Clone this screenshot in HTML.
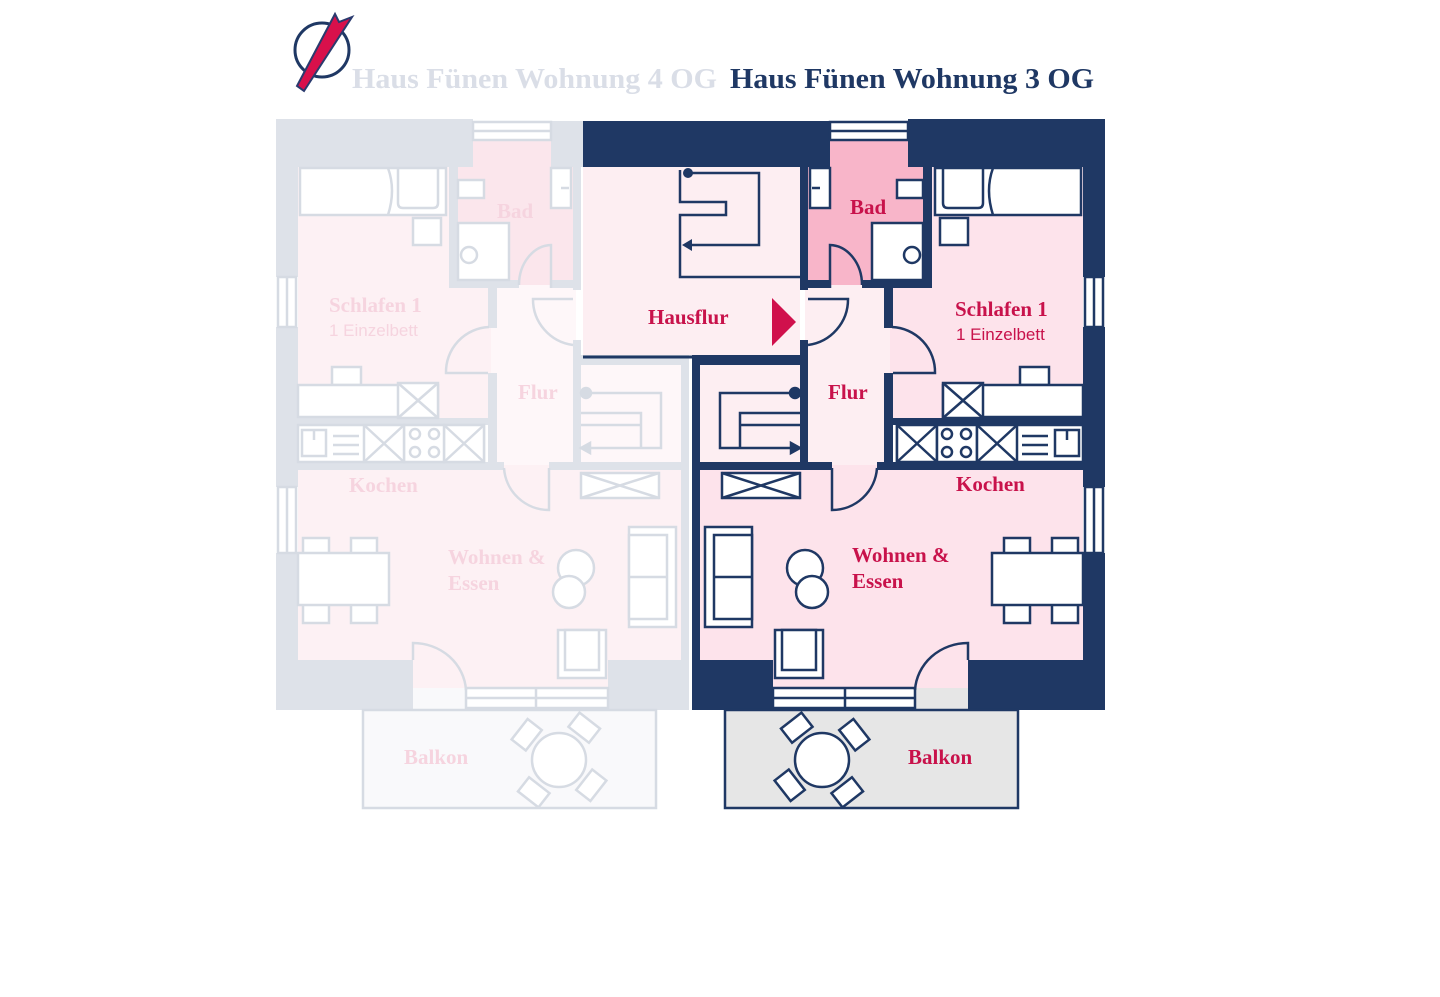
<!DOCTYPE html>
<html><head><meta charset="utf-8"><style>
html,body{margin:0;padding:0;background:#fff;width:1440px;height:997px;overflow:hidden}
svg{display:block}
.t{font-family:"Liberation Serif",serif;font-weight:bold;font-size:21px}
.s{font-family:"Liberation Sans",sans-serif;font-size:17px}
</style></head><body>
<svg width="1440" height="997" viewBox="0 0 1440 997" xmlns="http://www.w3.org/2000/svg">
<defs>
<g id="apt">
  <!-- rooms -->
  <rect x="808" y="138" width="117" height="147" fill="var(--bad)"/>
  <rect x="932" y="167" width="151" height="255" fill="var(--room)"/>
  <rect x="890" y="288" width="45" height="134" fill="var(--room)"/>
  <rect x="805" y="285" width="85" height="185" fill="var(--flur)"/>
  <rect x="700" y="362" width="105" height="103" fill="var(--flur)"/>
  <rect x="700" y="465" width="383" height="200" fill="var(--room)"/>
  <rect x="773" y="660" width="195" height="28" fill="var(--room)"/>
  <rect x="915" y="688" width="53" height="22" fill="var(--balk)"/>
  <!-- walls -->
  <g fill="var(--wall)">
    <rect x="583" y="121" width="247" height="46"/>
    <rect x="908" y="119" width="197" height="48"/>
    <rect x="1083" y="119" width="22" height="158"/>
    <rect x="1083" y="327" width="22" height="160"/>
    <rect x="1083" y="553" width="22" height="157"/>
    <rect x="692" y="660" width="81" height="50"/>
    <rect x="968" y="660" width="137" height="50"/>
    <rect x="692" y="360" width="8" height="350"/>
    <rect x="692" y="355" width="116" height="10"/>
    <rect x="800" y="167" width="8" height="123"/>
    <rect x="800" y="340" width="8" height="125"/>
    <rect x="923" y="167" width="9" height="121"/>
    <rect x="808" y="280" width="22" height="8"/>
    <rect x="862" y="280" width="70" height="8"/>
    <rect x="884" y="285" width="9" height="43"/>
    <rect x="884" y="373" width="9" height="97"/>
    <rect x="892" y="418" width="191" height="7"/>
    <rect x="692" y="462" width="140" height="8"/>
    <rect x="877" y="462" width="206" height="8"/>
  </g>
  <g fill="#fff" stroke="var(--line)" stroke-width="2.5">
    <!-- windows -->
    <rect x="830" y="122" width="78" height="18"/><line x1="830" y1="131" x2="908" y2="131"/>
    <rect x="1085" y="277" width="18" height="50"/><line x1="1094" y1="277" x2="1094" y2="327"/>
    <rect x="1085" y="487" width="18" height="66"/><line x1="1094" y1="487" x2="1094" y2="553"/>
    <rect x="773" y="688" width="142" height="20"/><line x1="773" y1="698" x2="915" y2="698"/><line x1="845" y1="688" x2="845" y2="708"/>
    <!-- bad -->
    <rect x="810" y="168" width="20" height="40"/><line x1="812" y1="188" x2="820" y2="188"/>
    <rect x="897" y="180" width="26" height="18"/>
    <rect x="872" y="223" width="51" height="57"/>
    <circle cx="912" cy="255" r="8"/>
    <!-- schlafen -->
    <rect x="935" y="168" width="146" height="47"/>
    <path d="M943 168 V203 Q943 208 948 208 H978 Q983 208 983 203 V168" fill="none"/>
    <path d="M993 168 Q985 190 993 215" fill="none"/>
    <rect x="940" y="218" width="28" height="27"/>
    <rect x="1020" y="367" width="29" height="18"/>
    <rect x="943" y="385" width="140" height="32"/>
    <rect x="943" y="383" width="40" height="35"/><path d="M943 383 L983 418 M983 383 L943 418"/>
    <!-- kitchen -->
    <rect x="897" y="425" width="186" height="37"/>
    <rect x="897" y="425" width="40" height="37"/><path d="M897 425 L937 462 M937 425 L897 462"/>
    <rect x="937" y="425" width="40" height="37"/>
    <circle cx="947" cy="434" r="5"/><circle cx="966" cy="434" r="5"/><circle cx="947" cy="452" r="5"/><circle cx="966" cy="452" r="5"/>
    <rect x="977" y="425" width="40" height="37"/><path d="M977 425 L1017 462 M1017 425 L977 462"/>
    <path d="M1022 436 H1048 M1022 445 H1048 M1022 454 H1048" fill="none"/>
    <rect x="1055" y="430" width="24" height="26"/><line x1="1067" y1="430" x2="1067" y2="440"/>
    <!-- storage stairs -->
    <path d="M795 393 H720 V448 H800 M740 448 V425 H800 M740 425 V413 H800" fill="none"/>
    <path d="M800 448 l-9 -5 v10 z" fill="var(--line)"/>
    <circle cx="795" cy="393" r="5" fill="var(--line)"/>
    <!-- wohnen -->
    <rect x="722" y="473" width="78" height="25"/><path d="M722 473 L800 498 M800 473 L722 498"/>
    <rect x="705" y="527" width="47" height="100"/><rect x="714" y="535" width="38" height="84"/><line x1="714" y1="577" x2="752" y2="577"/>
    <circle cx="805" cy="568" r="18"/><circle cx="812" cy="592" r="16"/>
    <rect x="775" y="630" width="48" height="48"/><rect x="782" y="630" width="34" height="40"/>
    <rect x="1004" y="538" width="26" height="17"/><rect x="1052" y="538" width="26" height="17"/>
    <rect x="1004" y="603" width="26" height="20"/><rect x="1052" y="603" width="26" height="20"/>
    <rect x="992" y="553" width="91" height="52"/>
    <!-- doors -->
    <path d="M808 299 H848 A46 46 0 0 1 808 345" fill="none"/>
    <path d="M830 288 V245 A33 40 0 0 1 862 285" fill="none"/>
    <path d="M892 327 A45 45 0 0 1 935 373 H893" fill="none"/>
    <path d="M832 468 V510 A45 45 0 0 0 877 468" fill="none"/>
    <path d="M968 660 V643 A53 50 0 0 0 915 690" fill="none"/>
  </g>
  <!-- balcony -->
  <rect x="725" y="710" width="293" height="98" fill="var(--balk)" stroke="var(--line)" stroke-width="2.5"/>
  <g stroke="var(--line)" stroke-width="2.5" fill="#fff" transform="translate(822,760)">
    <rect x="-13" y="-50" width="26" height="18" transform="rotate(-38)"/>
    <rect x="-13" y="-50" width="26" height="18" transform="rotate(52)"/>
    <rect x="-13" y="-50" width="26" height="18" transform="rotate(142)"/>
    <rect x="-13" y="-50" width="26" height="18" transform="rotate(232)"/>
    <circle r="27"/>
  </g>
</g>
</defs>

<!-- left faded apartment -->
<use href="#apt" transform="translate(1381,0) scale(-1,1)" style="--wall:#dee2e9;--room:#fdf1f4;--bad:#fbe6ec;--flur:#fef7f9;--line:#d6dbe3;--balk:#f9f9fb"/>
<!-- right apartment -->
<use href="#apt" style="--wall:#1f3864;--room:#fde3eb;--bad:#f8b5c9;--flur:#fdeef2;--line:#1f3864;--balk:#e6e6e6"/>

<!-- Hausflur -->
<rect x="583" y="167" width="217" height="188" fill="#fdeef2"/>
<line x1="583" y1="357" x2="692" y2="357" stroke="#1f3864" stroke-width="3"/>
<g stroke="#1f3864" stroke-width="2.5" fill="none">
  <path d="M680 170 V202 H726 V215 H680 V277 H800"/>
  <path d="M688 173 H759 V245 H690"/>
</g>
<path d="M682 245 l10 -6 v12 z" fill="#1f3864"/>
<circle cx="688" cy="173" r="5" fill="#1f3864"/>
<polygon points="772,298 772,346 796,322" fill="#d0104c"/>

<!-- logo -->
<circle cx="322" cy="50" r="27" fill="none" stroke="#1f3864" stroke-width="3"/>
<polygon points="297,86 335,14 339,22 352,17 304,91" fill="#d8104b" stroke="#2a3a6e" stroke-width="2"/>

<!-- titles -->
<text x="352" y="88" class="t" style="font-size:28px" fill="#dadee7" textLength="365" lengthAdjust="spacingAndGlyphs">Haus Fünen Wohnung 4 OG</text>
<text x="730" y="88" class="t" style="font-size:28px" fill="#1f3864" textLength="364" lengthAdjust="spacingAndGlyphs">Haus Fünen Wohnung 3 OG</text>

<!-- left labels -->
<g class="t" fill="#f6d4df">
  <text x="497" y="218">Bad</text>
  <text x="329" y="312">Schlafen 1</text>
  <text x="518" y="399">Flur</text>
  <text x="349" y="492">Kochen</text>
  <text x="448" y="564">Wohnen &amp;</text>
  <text x="448" y="590">Essen</text>
  <text x="404" y="764">Balkon</text>
</g>
<text x="329" y="336" class="s" fill="#f6d4df">1 Einzelbett</text>

<!-- right labels -->
<g class="t" fill="#c8124b">
  <text x="850" y="214">Bad</text>
  <text x="648" y="324">Hausflur</text>
  <text x="955" y="316">Schlafen 1</text>
  <text x="828" y="399">Flur</text>
  <text x="956" y="491">Kochen</text>
  <text x="852" y="562">Wohnen &amp;</text>
  <text x="852" y="588">Essen</text>
  <text x="908" y="764">Balkon</text>
</g>
<text x="956" y="340" class="s" fill="#c8124b">1 Einzelbett</text>
</svg>
</body></html>
